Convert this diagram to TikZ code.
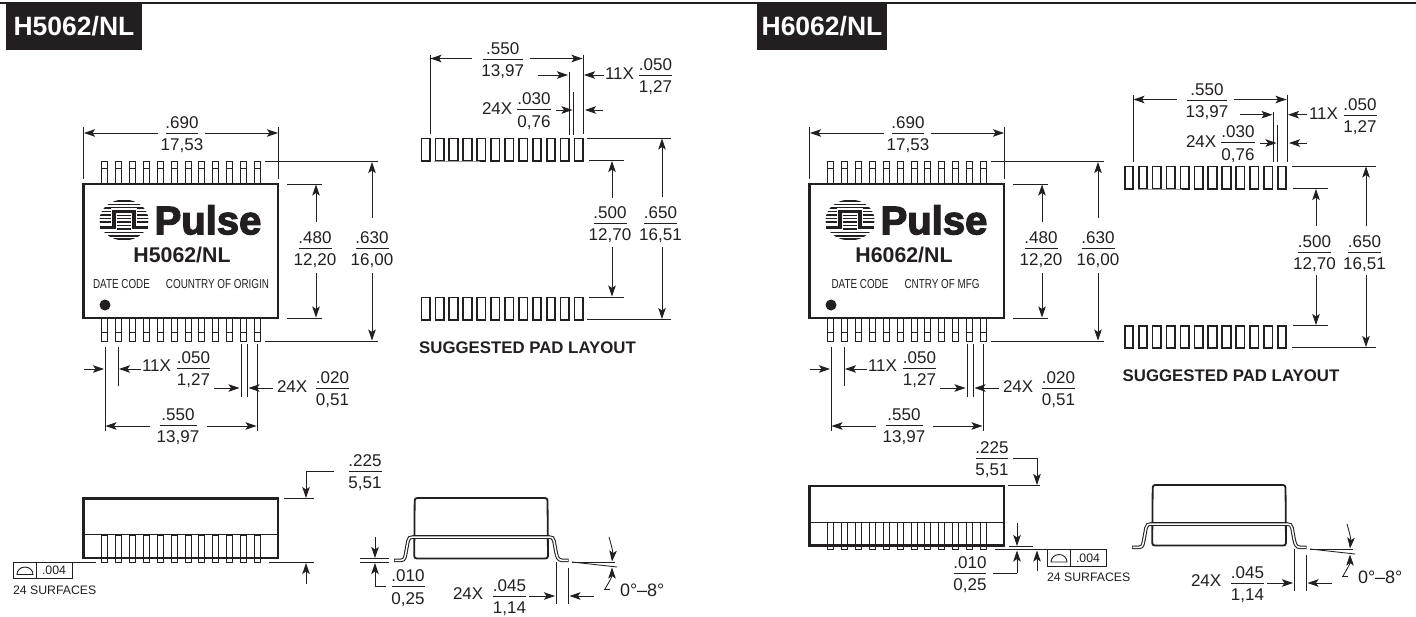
\documentclass[tikz,border=0pt]{standalone}
\usepackage{fontspec}
\setmainfont{Liberation Sans}
\newfontfamily\logofont[FakeBold=3]{Liberation Sans Bold}
\newfontfamily\narrowfont[FakeStretch=0.76]{Liberation Sans}
\usetikzlibrary{arrows.meta}
\definecolor{ink}{HTML}{231F20}
\tikzset{
  dimline/.style={draw=ink,line width=0.9pt},
  extline/.style={draw=ink,line width=0.85pt},
  arrowline/.style={draw=ink,line width=0.85pt,-{Stealth[length=11pt,width=7.5pt,inset=2.5pt]}},
  numtext/.style={anchor=base,inner sep=0pt,outer sep=0pt,text=ink,font=\fontsize{17}{18}\selectfont},
  smalltext/.style={anchor=center,inner sep=0pt,outer sep=0pt,text=ink,font=\fontsize{12.3}{14}\selectfont},
  headtext/.style={anchor=center,inner sep=0pt,text=white,font=\fontsize{26.5}{28}\selectfont\bfseries},
  padtext/.style={anchor=center,inner sep=0pt,text=ink,font=\fontsize{16.8}{18}\selectfont\bfseries},
  partmark/.style={anchor=center,inner sep=0pt,text=ink,font=\fontsize{21.3}{23}\selectfont\bfseries},
  marktext/.style={anchor=center,inner sep=0pt,text=ink,font=\fontsize{13}{14}\narrowfont},
  logotext/.style={anchor=center,inner sep=0pt,text=ink,font=\fontsize{40}{41}\logofont},
  bodyline/.style={draw=ink,line width=2.1pt},
  pinline/.style={draw=ink,line width=0.9pt,fill=white},
  padline/.style={draw=ink,line width=1.7pt},
}
% name, x centre, bar y, half width, top, bottom
\newcommand{\dimfrac}[6]{%
  \node[numtext] (#1t) at (#2,#3-5) {#5};
  \node[numtext] (#1b) at (#2,#3+17.6) {#6};
  \path[dimline] (#2-#4,#3) -- (#2+#4,#3);
}
% name, left x, centre y, text
\newcommand{\numlabel}[4]{\node[numtext,anchor=base west] (#1) at (#2,#3+5.9) {#4};}
% header: name, box left, box right, text
\newcommand{\headerbox}[4]{%
  \fill[ink] (#2,3) rectangle (#3,50);
  \node[headtext] (#1) at ({(#2+#3)/2},26.5) {#4};
}
\newcommand{\topview}[8]{% prefix, part, partx, date x, date text, origin x, origin text, unused
  \foreach \i in {0,...,11}{
    \pgfmathsetmacro{\px}{104.5+\i*13.91}
    \path[pinline] (\px-3,184) -- (\px-3,161.5) -- (\px+3,161.5) -- (\px+3,184);
    \path[draw=ink,line width=0.8pt] (\px-3,168) -- (\px+3,168);
    \path[pinline] (\px-3,318) rectangle (\px+3,341);
    \path[draw=ink,line width=0.8pt] (\px-3,332) -- (\px+3,332);
  }
  \path[bodyline,fill=white] (83.5,184) rectangle (278,318);
  \begin{scope}
    \clip (124,220) ellipse (24.5 and 20.5);
    \foreach \yy in {201,204.5,208,211.5,215,218.5,222,225.5,229,232.5,236,239}{
      \fill[ink] (95,\yy-0.8) rectangle (153,\yy+0.8);
    }
  \end{scope}
  \path[draw=white,line width=6.5pt,line join=miter] (98,227.3) -- (114,227.3) -- (114,211.5) -- (134,211.5) -- (134,227.3) -- (150,227.3);
  \path[draw=ink,line width=3.2pt,line join=miter] (100,227.3) -- (114,227.3) -- (114,211.5) -- (134,211.5) -- (134,227.3) -- (148,227.3);
  \node[logotext] (#1logo) at (208,220) {Pulse};
  \node[partmark] (#1part) at (#3,255) {#2};
  \node[marktext] (#1date) at (#4,284.5) {#5};
  \node[marktext] (#1origin) at (#6,284.5) {#7};
  \fill[ink] (105,305) circle (5.5);
  % .690
  \path[extline] (83.5,127) -- (83.5,179);
  \path[extline] (278,127) -- (278,179);
  \path[arrowline] (158,133) -- (84,133);
  \path[arrowline] (205,133) -- (278,133);
  \dimfrac{#1a}{182}{133}{16}{.690}{17,53}
  % .480
  \path[extline] (287,184) -- (322,184);
  \path[extline] (287,318) -- (322,318);
  \path[arrowline] (316,222) -- (316,184.5);
  \path[arrowline] (316,273) -- (316,317.5);
  \dimfrac{#1b}{315}{248}{16.5}{.480}{12,20}
  % .630
  \path[extline] (265,161.5) -- (378,161.5);
  \path[extline] (265,341) -- (378,341);
  \path[arrowline] (372,218) -- (372,162);
  \path[arrowline] (372,273) -- (372,340.5);
  \dimfrac{#1c}{372}{248}{16.5}{.630}{16,00}
  % 11X
  \path[extline] (105,347) -- (105,431);
  \path[extline] (118,347) -- (118,386);
  \path[arrowline] (84,369) -- (104,369);
  \path[arrowline] (141,369) -- (119,369);
  \numlabel{#1d}{142}{366}{11X}
  \dimfrac{#1e}{193.5}{368}{16.5}{.050}{1,27}
  % 24X .020
  \path[extline] (241,344) -- (241,397);
  \path[extline] (247,344) -- (247,397);
  \path[extline] (257.5,344) -- (257.5,431);
  \path[arrowline] (214,388) -- (239.5,388);
  \path[arrowline] (273,388) -- (248.5,388);
  \numlabel{#1f}{277}{387}{24X}
  \dimfrac{#1g}{332.5}{388}{16.5}{.020}{0,51}
  % .550
  \path[arrowline] (150,426) -- (105.5,426);
  \path[arrowline] (207,426) -- (256.5,426);
  \dimfrac{#1h}{178}{425}{18.5}{.550}{13,97}
}
\newcommand{\sideview}{%
  \path[draw=ink,line width=0.9pt] (83.5,534.5) -- (278,534.5);
  \foreach \i in {0,...,11}{
    \pgfmathsetmacro{\px}{104.5+\i*13.91}
    \path[pinline] (\px-3,535) rectangle (\px+3,562);
  }
  \path[bodyline] (83.5,498.5) rectangle (278,558);
}
\newcommand{\frontview}{%
  \path[draw=ink,line width=1.8pt,rounded corners=2.5pt] (414.7,498) -- (547.5,498) -- (548,558.5) -- (414.2,558.5) -- cycle;
  \path[draw=ink,line width=3.6pt] (394,560.3) -- (401,560.3) .. controls (405,560.3) and (405,557) .. (406,552) -- (408,541) .. controls (408.5,538) and (410,537) .. (413,537) -- (549,537) .. controls (552,537) and (553.5,538) .. (554,541) -- (556,552) .. controls (557,557) and (558,560.3) .. (562,560.3) -- (568.5,560.3);
  \path[draw=white,line width=1.5pt] (394.5,560.3) -- (401,560.3) .. controls (405,560.3) and (405,557) .. (406,552) -- (408,541) .. controls (408.5,538) and (410,537) .. (413,537) -- (549,537) .. controls (552,537) and (553.5,538) .. (554,541) -- (556,552) .. controls (557,557) and (558,560.3) .. (562,560.3) -- (568,560.3);
}
\newcommand{\leadangle}[1]{%
  \path[extline] (556,562) -- (556,604);
  \path[extline] (568.5,568) -- (568.5,604);
  \path[arrowline] (529,596) -- (555,596);
  \path[arrowline] (594,596) -- (569.5,596);
  \numlabel{#1a}{453}{594}{24X}
  \dimfrac{#1b}{509.5}{596}{16.5}{.045}{1,14}
  \path[extline] (572,562) -- (615,562);
  \path[extline] (572,562) -- (617,567);
  \path[arrowline] (609,537) .. controls (611,544) and (613,551) .. (612,561.5);
  \path[arrowline] (605,589) .. controls (609,582) and (612,577) .. (612,567.5);
  \path[extline] (604,589.5) -- (610,589.5);
  \node[numtext,anchor=base west,font=\fontsize{18}{19}\selectfont] (#1c) at (620,596) {0°–8°};
}
\newcommand{\flatbox}[3]{%
  \path[draw=ink,line width=0.9pt] (#2,#3) rectangle (#2+59.5,#3+16.5);
  \path[draw=ink,line width=0.9pt] (#2+23,#3) -- (#2+23,#3+16.5);
  \path[draw=ink,line width=0.9pt] (#2+4,#3+12.5) -- (#2+20,#3+12.5) arc (0:-180:8 and 7.5) -- cycle;
  \node[smalltext] (#1v) at (#2+41,#3+8.7) {.004};
  \node[smalltext,anchor=west] (#1s) at (#2,#3+28) {24 SURFACES};
}
\newcommand{\padrows}[4]{%
  \foreach \i in {0,...,11}{
    \pgfmathsetmacro{\qx}{#1+\i*13.91}
    \path[padline] (\qx,#2) rectangle (\qx+8.5,#2+22.3);
    \path[padline] (\qx,#3) rectangle (\qx+8.5,#3+22.3);
  }
}
\begin{document}
\begin{tikzpicture}[x=1pt,y=-1pt]
\useasboundingbox (0,0) rectangle (1416,616);
\fill[white] (0,0) rectangle (1416,616);
\path[draw=ink,line width=2.4pt] (0,3.2) -- (1416,3.2);
\headerbox{hL}{6}{142}{H5062/NL}
\headerbox{hR}{757}{887}{H6062/NL}

% ---------- left ----------
\begin{scope}
\topview{L}{H5062/NL}{182}{121.5}{DATE CODE}{217.5}{COUNTRY OF ORIGIN}{}
\sideview
\path[extline] (284,498.5) -- (314,498.5);
\path[extline] (334,471) -- (306,471);
\path[arrowline] (306,471) -- (306,498);
\dimfrac{Li}{365}{471}{16.5}{.225}{5,51}
\path[extline] (269,562) -- (314,562);
\path[extline] (13,562) -- (96,562);
\path[arrowline] (306,584) -- (306,563);
\flatbox{Lj}{13}{562}
\frontview
\path[extline] (360,558.5) -- (389,558.5);
\path[extline] (360,562.5) -- (389,562.5);
\path[arrowline] (375,537) -- (375,558);
\path[extline] (386,586.5) -- (375,586.5);
\path[arrowline] (375,586.5) -- (375,563);
\dimfrac{Lk}{408}{586.5}{16.5}{.010}{0,25}
\leadangle{Ll}
% pad layout
\padrows{421.5}{138.5}{297.5}{}
\path[draw=ink!45,line width=0.8pt] (434,161.5) -- (480,161.5);
\path[extline] (430,55) -- (430,134);
\path[extline] (583,55) -- (583,134);
\path[arrowline] (472,58.5) -- (430.5,58.5);
\path[arrowline] (530,58.5) -- (582.5,58.5);
\dimfrac{Lm}{502.7}{59}{20}{.550}{13,97}
\path[extline] (569,72) -- (569,135);
\path[extline] (573.5,92) -- (573.5,135);
\path[arrowline] (538,75) -- (568,75);
\path[arrowline] (604,75) -- (584,75);
\numlabel{Ln}{605}{74}{11X}
\dimfrac{Lo}{655.5}{75}{16.5}{.050}{1,27}
\numlabel{Lp}{482}{109}{24X}
\dimfrac{Lq}{534}{109.5}{17}{.030}{0,76}
\path[arrowline] (556,110) -- (572.5,110);
\path[arrowline] (603,110) -- (585,110);
\path[extline] (587,138) -- (671,138);
\path[extline] (589,160.5) -- (624,160.5);
\path[extline] (589,297) -- (624,297);
\path[extline] (587,319.5) -- (671,319.5);
\path[arrowline] (612,198) -- (612,161);
\path[arrowline] (612,247) -- (612,296.5);
\dimfrac{Lr}{610}{223}{16.5}{.500}{12,70}
\path[arrowline] (662,197) -- (662,138.5);
\path[arrowline] (662,247) -- (662,319);
\dimfrac{Ls}{660.5}{223}{16.5}{.650}{16,51}
\node[padtext,anchor=west] (Lt) at (419,347.5) {SUGGESTED PAD LAYOUT};
\end{scope}

% ---------- right ----------
\begin{scope}[shift={(726,0)}]
\topview{R}{H6062/NL}{178}{134}{DATE CODE}{216}{CNTRY OF MFG}{}
\end{scope}
\begin{scope}[shift={(726,-12.5)}]
\sideview
\end{scope}
\path[extline] (1008,485.7) -- (1040,485.7);
\path[extline] (1013,458) -- (1037,458);
\path[arrowline] (1037,458) -- (1037,485);
\dimfrac{Ri}{992}{458}{16}{.225}{5,51}
\path[extline] (1009,546.5) -- (1033,546.5);
\path[extline] (995,549.5) -- (1050,549.5);
\path[arrowline] (1017,523) -- (1017,546);
\path[extline] (993,573) -- (1017,573);
\path[arrowline] (1017,573) -- (1017,550.5);
\path[arrowline] (1037,571) -- (1037,550.5);
\dimfrac{Rk}{970}{573}{16}{.010}{0,25}
\flatbox{Rj}{1047}{549.5}
\begin{scope}[shift={(738,-13)}]
\frontview
\leadangle{Rl}
\end{scope}
\padrows{1124.8}{166.5}{325.7}{}
\path[draw=ink!45,line width=0.8pt] (1138,189.5) -- (1182,189.5);
\path[extline] (1133,95) -- (1133,162);
\path[extline] (1287,95) -- (1287,162);
\path[arrowline] (1177,99.5) -- (1133.5,99.5);
\path[arrowline] (1234,99.5) -- (1286.5,99.5);
\dimfrac{Rm}{1207}{100}{20}{.550}{13,97}
\path[extline] (1273.5,112) -- (1273.5,162);
\path[extline] (1277.7,125) -- (1277.7,162);
\path[arrowline] (1240,114.7) -- (1272.5,114.7);
\path[arrowline] (1307,114.7) -- (1288,114.7);
\numlabel{Rn}{1309}{114}{11X}
\dimfrac{Ro}{1360}{115}{16.5}{.050}{1,27}
\numlabel{Rp}{1186}{142}{24X}
\dimfrac{Rq}{1238}{142.5}{17}{.030}{0,76}
\path[arrowline] (1260,143) -- (1276.5,143);
\path[arrowline] (1307,143) -- (1289,143);
\path[extline] (1292,166) -- (1376,166);
\path[extline] (1293,188.3) -- (1328,188.3);
\path[extline] (1293,325.7) -- (1328,325.7);
\path[extline] (1292,347.7) -- (1376,347.7);
\path[arrowline] (1316,226) -- (1316,189);
\path[arrowline] (1316,275) -- (1316,325);
\dimfrac{Rr}{1314.5}{252}{16.5}{.500}{12,70}
\path[arrowline] (1366,226) -- (1366,166.5);
\path[arrowline] (1366,275) -- (1366,347);
\dimfrac{Rs}{1364.5}{252}{16.5}{.650}{16,51}
\node[padtext,anchor=west] (Rt) at (1122.5,375.5) {SUGGESTED PAD LAYOUT};
\end{tikzpicture}
\end{document}
